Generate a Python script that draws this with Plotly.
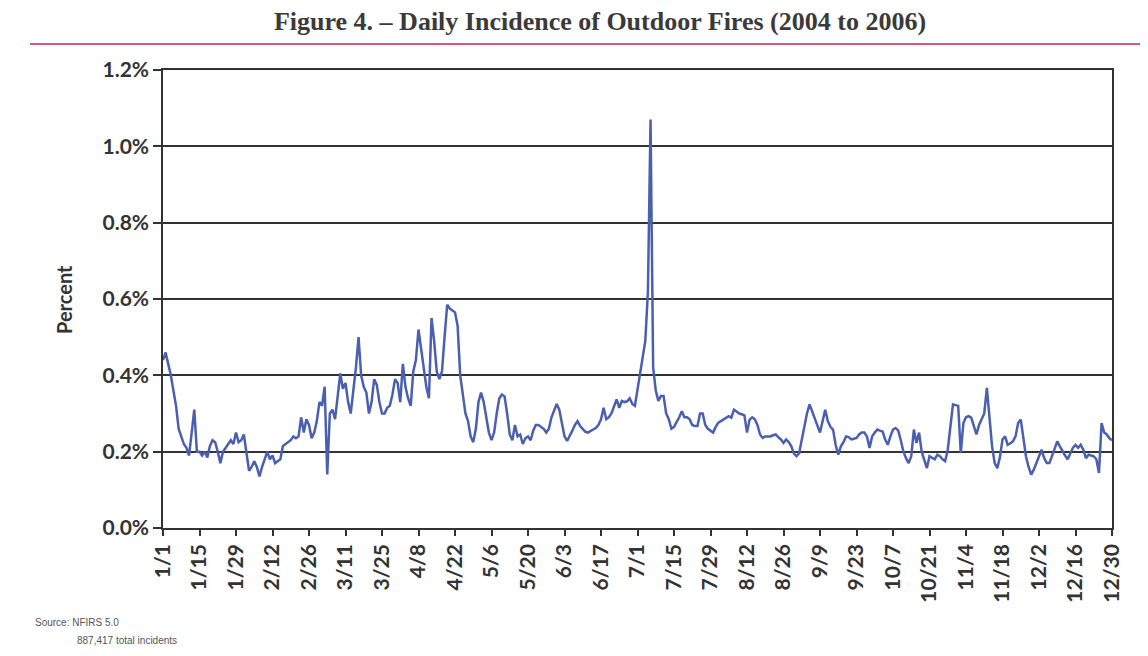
import plotly.graph_objects as go

# Day index (0 = Jan 1) and daily share of outdoor fires (%)
tick_labels = ["1/1", "1/15", "1/29", "2/12", "2/26", "3/11", "3/25", "4/8", "4/22",
               "5/6", "5/20", "6/3", "6/17", "7/1", "7/15", "7/29", "8/12", "8/26",
               "9/9", "9/23", "10/7", "10/21", "11/4", "11/18", "12/2", "12/16", "12/30"]
y_ticks = [0.0, 0.2, 0.4, 0.6, 0.8, 1.0, 1.2]

percent = [
    # Jan 1 - Mar 13 (d0-d72)
    0.44, 0.46, 0.43, 0.40, 0.36, 0.32, 0.26, 0.24, 0.22, 0.21,
    0.19, 0.25, 0.31, 0.20, 0.20, 0.19, 0.20, 0.185, 0.215, 0.23,
    0.225, 0.20, 0.17, 0.20, 0.21, 0.22, 0.23, 0.22, 0.25, 0.225,
    0.23, 0.245, 0.20, 0.15, 0.16, 0.175, 0.16, 0.135, 0.16, 0.18,
    0.20, 0.18, 0.19, 0.17, 0.175, 0.18, 0.215, 0.22, 0.225, 0.23,
    0.24, 0.235, 0.24, 0.29, 0.25, 0.285, 0.27, 0.235, 0.25, 0.28,
    0.33, 0.32, 0.37, 0.14, 0.30, 0.31, 0.285, 0.35, 0.405, 0.365,
    0.38, 0.33, 0.30,
    # d73-d143
    0.36, 0.42, 0.50, 0.40, 0.37, 0.355, 0.30, 0.33, 0.39, 0.375,
    0.33, 0.30, 0.30, 0.315, 0.32, 0.35, 0.39, 0.38, 0.33, 0.43,
    0.37, 0.34, 0.32, 0.41, 0.44, 0.52, 0.47, 0.42, 0.37, 0.34,
    0.55, 0.49, 0.41, 0.39, 0.41, 0.50, 0.585, 0.575, 0.57, 0.565,
    0.53, 0.40, 0.35, 0.30, 0.28, 0.24, 0.225, 0.26, 0.33, 0.355,
    0.33, 0.29, 0.25, 0.23, 0.25, 0.30, 0.34, 0.35, 0.345, 0.30,
    0.245, 0.23, 0.27, 0.24, 0.245, 0.22, 0.235, 0.24, 0.23, 0.255,
    0.27,
    # d144-d217
    0.27, 0.265, 0.26, 0.25, 0.26, 0.29, 0.31, 0.325, 0.31, 0.27,
    0.24, 0.228, 0.24, 0.255, 0.27, 0.28, 0.267, 0.258, 0.252, 0.25,
    0.255, 0.258, 0.262, 0.27, 0.285, 0.315, 0.285, 0.29, 0.30, 0.32,
    0.337, 0.315, 0.333, 0.33, 0.332, 0.34, 0.325, 0.32, 0.36, 0.40,
    0.44, 0.49, 0.62, 1.07, 0.42, 0.36, 0.333, 0.346, 0.346, 0.30,
    0.285, 0.26, 0.265, 0.276, 0.29, 0.306, 0.29, 0.29, 0.285, 0.27,
    0.267, 0.267, 0.30, 0.30, 0.27, 0.26, 0.255, 0.25, 0.265, 0.276,
    0.28, 0.285, 0.29, 0.293,
    # d218-d289
    0.289, 0.31, 0.305, 0.30, 0.298, 0.295, 0.25, 0.284, 0.29, 0.285,
    0.27, 0.245, 0.236, 0.24, 0.24, 0.24, 0.243, 0.245, 0.238, 0.232,
    0.223, 0.232, 0.225, 0.214, 0.195, 0.188, 0.196, 0.23, 0.267, 0.30,
    0.324, 0.306, 0.29, 0.267, 0.25, 0.28, 0.31, 0.28, 0.265, 0.258,
    0.218, 0.192, 0.214, 0.225, 0.24, 0.238, 0.232, 0.234, 0.236, 0.245,
    0.25, 0.25, 0.24, 0.21, 0.24, 0.25, 0.258, 0.255, 0.253, 0.232,
    0.218, 0.24, 0.258, 0.262, 0.255, 0.23, 0.20, 0.183, 0.17, 0.188,
    0.258, 0.223,
    # d290-d364
    0.25, 0.20, 0.18, 0.157, 0.188, 0.185, 0.18, 0.192, 0.188, 0.18,
    0.175, 0.205, 0.26, 0.324, 0.322, 0.32, 0.196, 0.275, 0.29, 0.293,
    0.289, 0.267, 0.245, 0.27, 0.284, 0.30, 0.367, 0.30, 0.214, 0.17,
    0.157, 0.185, 0.232, 0.24, 0.218, 0.222, 0.227, 0.24, 0.275, 0.284,
    0.235, 0.188, 0.16, 0.14, 0.153, 0.17, 0.19, 0.205, 0.183, 0.17,
    0.17, 0.19, 0.205, 0.227, 0.214, 0.20, 0.19, 0.18, 0.196, 0.21,
    0.218, 0.21, 0.218, 0.205, 0.183, 0.192, 0.19, 0.188, 0.18, 0.144,
    0.275, 0.25, 0.245, 0.235, 0.23,
]
days = list(range(len(percent)))

# The page body has an 8px margin, so the figure starts at (8, 8) on screen.
OFF = 8
W, H = 1148 - 2 * OFF, 656 - 2 * OFF
# plot area in screen pixels
L, R, T, B = 163, 1112, 70, 528


def px(x):
    return (x - L) / (R - L)


def py(y):
    return (B - y) / (B - T)


fig = go.Figure()
fig.add_trace(go.Scatter(
    x=days, y=percent, mode="lines",
    line=dict(color="#4b5fb0", width=2.5),
    hoverinfo="skip", showlegend=False,
))

fig.update_layout(
    width=W, height=H,
    margin=dict(l=L - OFF, r=(W + OFF) - R, t=T - OFF, b=(H + OFF) - B),
    paper_bgcolor="white", plot_bgcolor="white",
    title=dict(
        text="<b>Figure 4. – Daily Incidence of Outdoor Fires (2004 to 2006)</b>",
        xref="container", yref="container",
        x=(600 - OFF) / W, y=1 - (21 - OFF) / H, xanchor="center", yanchor="middle",
        font=dict(family="Liberation Serif", size=26, color="#3a3a3a"),
    ),
    xaxis=dict(
        range=[0, 364],
        tickmode="array",
        tickvals=[i * 14 for i in range(len(tick_labels))],
        ticktext=tick_labels,
        tickangle=-90,
        tickfont=dict(family="Lato", size=21, color="#333333", weight="bold"),
        ticks="outside", ticklen=6, tickwidth=1.5, tickcolor="#333333",
        showgrid=False, zeroline=False,
        showline=True, linecolor="#333333", linewidth=1.5, mirror=True,
    ),
    yaxis=dict(
        range=[0, 1.2],
        tickmode="array",
        tickvals=y_ticks,
        ticktext=[f"{v:.1f}%" for v in y_ticks],
        tickfont=dict(family="Lato", size=21, color="#333333", weight="bold"),
        ticks="outside", ticklen=8, tickwidth=1.5, tickcolor="#333333",
        showgrid=True, gridcolor="#333333", gridwidth=1.5,
        zeroline=False,
        showline=True, linecolor="#333333", linewidth=1.5, mirror=True,
    ),
    shapes=[dict(
        type="line", xref="paper", yref="paper",
        x0=px(30), x1=px(1142), y0=py(44), y1=py(44),
        line=dict(color="#d9577e", width=2),
    )],
    annotations=[
        dict(text="<b>Percent</b>", xref="paper", yref="paper",
             x=px(64), y=py(300), textangle=-90, showarrow=False,
             xanchor="center", yanchor="middle",
             font=dict(family="Lato", size=20, color="#333333")),
        dict(text="Source: NFIRS 5.0", xref="paper", yref="paper",
             x=px(33), y=py(622), showarrow=False,
             xanchor="left", yanchor="middle",
             font=dict(family="Liberation Sans", size=10, color="#555555")),
        dict(text="887,417 total incidents", xref="paper", yref="paper",
             x=px(75), y=py(640), showarrow=False,
             xanchor="left", yanchor="middle",
             font=dict(family="Liberation Sans", size=10, color="#555555")),
    ],
)

fig.write_html("out.html")
